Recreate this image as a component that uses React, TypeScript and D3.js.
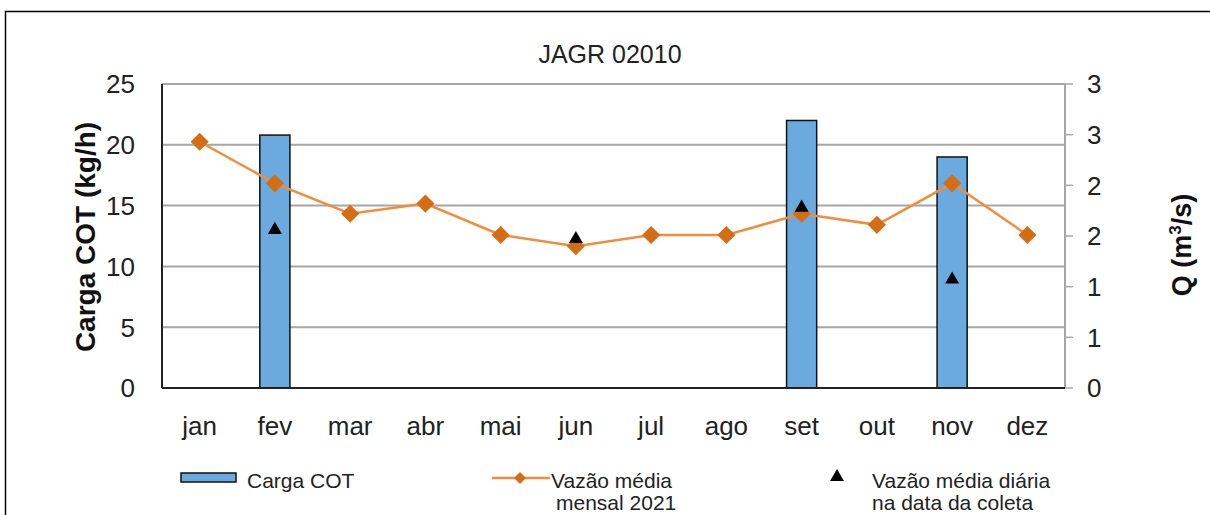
import * as d3 from 'd3';

const months = ['jan', 'fev', 'mar', 'abr', 'mai', 'jun', 'jul', 'ago', 'set', 'out', 'nov', 'dez'];
// Carga COT (kg/h), only months with a sample
const cargaCot = [null, 20.8, null, null, null, null, null, null, 22.0, null, 19.0, null];
// Vazão média mensal 2021 (m3/s)
const vazaoMensal = [2.43, 2.02, 1.72, 1.82, 1.51, 1.40, 1.51, 1.51, 1.72, 1.61, 2.02, 1.51];
// Vazão média diária na data da coleta (m3/s)
const vazaoDiaria = [null, 1.56, null, null, null, 1.47, null, null, 1.78, null, 1.07, null];
const leftTicks = [0, 5, 10, 15, 20, 25];
const rightTicks = [0, 0.5, 1, 1.5, 2, 2.5, 3];

const W = 1210;
const H = 515;
const plot = { left: 162, right: 1065, top: 84, bottom: 388 };
const font = 'Liberation Sans, Arial, sans-serif';

export default function App() {
  const x = d3.scaleBand().domain(months).range([plot.left, plot.right]).paddingInner(0).paddingOuter(0);
  const yL = d3.scaleLinear().domain([0, 25]).range([plot.bottom, plot.top]);
  const yR = d3.scaleLinear().domain([0, 3]).range([plot.bottom, plot.top]);
  const cx = (m: string) => (x(m) as number) + x.bandwidth() / 2;
  const barW = x.bandwidth() * 0.4;

  const line = d3.line<number>()
    .x((_, i) => cx(months[i]))
    .y(d => yR(d));

  const diamond = d3.symbol().type(d3.symbolDiamond2).size(210)();
  const tri = d3.symbol().type(d3.symbolTriangle).size(85)();
  const diamondSmall = d3.symbol().type(d3.symbolDiamond2).size(90)();

  return (
    <svg width={W} height={H} style={{ position: 'absolute', left: 0, top: 0 }} fontFamily={font}>
      <rect x={0} y={0} width={W} height={H} fill="#fff" />
      {/* outer frame (top and left visible) */}
      <path d={`M5.5,${H} V11.5 H${W}`} fill="none" stroke="#000" strokeWidth={1.5} />

      <text x={610} y={63} textAnchor="middle" fontSize={25} fill="#222">JAGR 02010</text>

      {/* gridlines */}
      {leftTicks.slice(1).map(t => (
        <line key={t} x1={plot.left} x2={plot.right} y1={yL(t)} y2={yL(t)} stroke="#a6a6a6" strokeWidth={2} />
      ))}

      {/* right axis */}
      <line x1={plot.right} x2={plot.right} y1={plot.top} y2={plot.bottom} stroke="#a6a6a6" strokeWidth={2} />
      {rightTicks.map(t => (
        <g key={t}>
          <line x1={plot.right} x2={plot.right + 8} y1={yR(t)} y2={yR(t)} stroke="#a6a6a6" strokeWidth={1.5} />
          <text x={plot.right + 22} y={yR(t)} dy="0.36em" fontSize={26} fill="#222">{d3.format('.0f')(Math.round(t))}</text>
        </g>
      ))}

      {/* bars */}
      {cargaCot.map((v, i) => v == null ? null : (
        <rect key={i} x={cx(months[i]) - barW / 2} y={yL(v)} width={barW} height={plot.bottom - yL(v)}
          fill="#6aaade" stroke="#111" strokeWidth={1.5} />
      ))}

      {/* left and bottom axes */}
      <line x1={plot.left} x2={plot.left} y1={plot.top} y2={plot.bottom} stroke="#222" strokeWidth={2} />
      <line x1={plot.left} x2={plot.right} y1={plot.bottom} y2={plot.bottom} stroke="#222" strokeWidth={2} />
      {leftTicks.map(t => (
        <text key={t} x={plot.left - 27} y={yL(t)} dy="0.36em" textAnchor="end" fontSize={26} fill="#222">{t}</text>
      ))}
      {months.map(m => (
        <text key={m} x={cx(m)} y={435} textAnchor="middle" fontSize={26} fill="#222">{m}</text>
      ))}

      {/* monthly flow line */}
      <path d={line(vazaoMensal) || ''} fill="none" stroke="#f28e3b" strokeWidth={2.5} />
      {vazaoMensal.map((v, i) => (
        <path key={i} d={diamond || ''} transform={`translate(${cx(months[i])},${yR(v)})`} fill="#d46d14" />
      ))}

      {/* daily flow on sampling date */}
      {vazaoDiaria.map((v, i) => v == null ? null : (
        <path key={i} d={tri || ''} transform={`translate(${cx(months[i])},${yR(v)})`} fill="#000" />
      ))}

      {/* axis titles */}
      <text transform="translate(95,237) rotate(-90)" textAnchor="middle" fontSize={28} fontWeight="bold" fill="#111">Carga COT (kg/h)</text>
      <text transform="translate(1191,245) rotate(-90)" textAnchor="middle" fontSize={27} fontWeight="bold" fill="#111">
        Q (m<tspan dy={-10} fontSize={17}>3</tspan><tspan dy={10}>/s)</tspan>
      </text>

      {/* legend */}
      <rect x={181} y={473} width={55} height={9} fill="#6aaade" stroke="#111" strokeWidth={1.5} />
      <text x={247} y={488} fontSize={21} fill="#222">Carga COT</text>

      <line x1={492} x2={550} y1={478} y2={478} stroke="#f28e3b" strokeWidth={2.5} />
      <path d={diamondSmall || ''} transform="translate(520,478)" fill="#d46d14" />
      <text x={551} y={488} fontSize={21} fill="#222">Vazão média</text>
      <text x={556} y={510} fontSize={21} fill="#222">mensal 2021</text>

      <path d={tri || ''} transform="translate(837,477)" fill="#000" />
      <text x={872} y={488} fontSize={21} fill="#222">Vazão média diária</text>
      <text x={872} y={510} fontSize={21} fill="#222">na data da coleta</text>
    </svg>
  );
}
